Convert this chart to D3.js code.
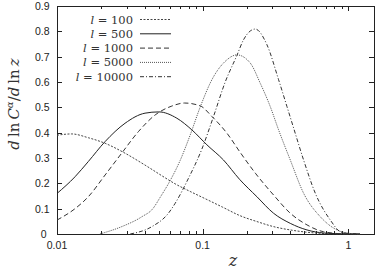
<!DOCTYPE html>
<html>
<head>
<meta charset="utf-8">
<script src="https://d3js.org/d3.v7.min.js"></script>
<style>
body { margin: 0; background: #fff; }
svg { display: block; }
</style>
</head>
<body>
<svg id="chart"></svg>
<script>
// legend names, one per curve
var seriesNames = ["100", "500", "1000", "5000", "10000"];

// curves: [z, d ln C / d ln z]
var l100 = [[0.0100, 0.390], [0.0126, 0.395], [0.0164, 0.380], [0.0214, 0.358], [0.0293, 0.319],
    [0.0402, 0.272], [0.0552, 0.222], [0.0647, 0.198], [0.0820, 0.168], [0.1070, 0.136],
    [0.1370, 0.106], [0.1810, 0.072], [0.2360, 0.049], [0.3070, 0.029], [0.4000, 0.016],
    [0.5200, 0.007], [0.6800, 0.002], [1.0000, 0.000], [1.2000, 0.000]];

var l500 = [[0.0100, 0.160], [0.0133, 0.226], [0.0164, 0.286], [0.0214, 0.365], [0.0293, 0.437],
    [0.0402, 0.477], [0.0500, 0.482], [0.0665, 0.457], [0.0843, 0.411], [0.1069, 0.352],
    [0.1390, 0.292], [0.1790, 0.216], [0.2358, 0.147], [0.3066, 0.082], [0.3994, 0.042],
    [0.5200, 0.016], [0.6760, 0.004], [1.0000, 0.000], [1.2000, 0.000]];

var l1000 = [[0.0100, 0.055], [0.0133, 0.100], [0.0164, 0.147], [0.0214, 0.233], [0.0278, 0.319],
    [0.0362, 0.404], [0.0472, 0.470], [0.0614, 0.505], [0.0750, 0.517], [0.0961, 0.506],
    [0.1157, 0.464], [0.1467, 0.398], [0.1810, 0.322], [0.2300, 0.240], [0.3066, 0.154],
    [0.3994, 0.082], [0.5200, 0.036], [0.6760, 0.009], [1.0000, 0.000], [1.2000, 0.000]];

var l5000 = [[0.0197, 0.000], [0.0278, 0.029], [0.0382, 0.068], [0.0455, 0.100], [0.0511, 0.145],
    [0.0597, 0.210], [0.0700, 0.290], [0.0820, 0.390], [0.0960, 0.500], [0.1157, 0.609],
    [0.1450, 0.685], [0.1718, 0.707], [0.2120, 0.675], [0.2485, 0.595], [0.2910, 0.503],
    [0.3320, 0.411], [0.3994, 0.292], [0.4930, 0.161], [0.6420, 0.068], [0.8360, 0.016],
    [1.0000, 0.003], [1.2000, 0.000]];

var l10000 = [[0.0318, 0.000], [0.0448, 0.029], [0.0582, 0.082], [0.0647, 0.121], [0.0799, 0.220],
    [0.0987, 0.335], [0.1187, 0.464], [0.1428, 0.600], [0.1718, 0.705], [0.1908, 0.767],
    [0.2295, 0.809], [0.2762, 0.747], [0.3320, 0.609], [0.3790, 0.503], [0.4150, 0.430],
    [0.4930, 0.292], [0.5930, 0.161], [0.7520, 0.055], [0.8810, 0.009], [1.0000, 0.002],
    [1.2000, 0.000]];

var allSeries = [l100, l500, l1000, l5000, l10000];

// x ticks (log axis) and y ticks
var xMajor = [0.01, 0.1, 1];
var xMajorLabels = ["0.01", "0.1", "1"];
var yTicks = [0, 0.1, 0.2, 0.3, 0.4, 0.5, 0.6, 0.7, 0.8, 0.9];

var styles = [
    { dash: "2,1.5", color: "#444" },
    { dash: null, color: "#222" },
    { dash: "5,3", color: "#333" },
    { dash: "1,1", color: "#555" },
    { dash: "4,2,1,2", color: "#333" }
];

var serif = "'DejaVu Serif', serif";
var sans = "'Liberation Sans', Arial, sans-serif";
var thin = "\u2009";

var screen = { width: 379, height: 273 };
var plot = { left: 57, right: 374, top: 6, bottom: 234 };

var svg = d3.select("#chart")
    .attr("width", screen.width)
    .attr("height", screen.height);

var xScale = d3.scaleLog()
    .domain([0.01, 1.5])
    .range([plot.left, plot.right]);

var yScale = d3.scaleLinear()
    .domain([0, 0.9])
    .range([plot.bottom, plot.top]);

// minor ticks for the log axis
var xMinor = [];
[0.01, 0.1, 1].forEach(function (d) {
    for (var k = 2; k <= 9; k++) {
        var v = d * k;
        if (v <= 1.5) xMinor.push(v);
    }
});

var axes = svg.append("g").attr("stroke", "#222").attr("stroke-width", 1).attr("shape-rendering", "crispEdges");

axes.append("rect")
    .attr("x", plot.left)
    .attr("y", plot.top)
    .attr("width", plot.right - plot.left)
    .attr("height", plot.bottom - plot.top)
    .attr("fill", "none");

// inward ticks, bottom and top
xMajor.forEach(function (d) {
    var x = Math.round(xScale(d)) + 0.5;
    axes.append("line").attr("x1", x).attr("x2", x).attr("y1", plot.bottom).attr("y2", plot.bottom - 5);
    axes.append("line").attr("x1", x).attr("x2", x).attr("y1", plot.top).attr("y2", plot.top + 5);
});
xMinor.forEach(function (d) {
    var x = Math.round(xScale(d)) + 0.5;
    axes.append("line").attr("x1", x).attr("x2", x).attr("y1", plot.bottom).attr("y2", plot.bottom - 3);
    axes.append("line").attr("x1", x).attr("x2", x).attr("y1", plot.top).attr("y2", plot.top + 3);
});
yTicks.forEach(function (d) {
    var y = Math.round(yScale(d)) + 0.5;
    axes.append("line").attr("x1", plot.left).attr("x2", plot.left + 5).attr("y1", y).attr("y2", y);
    axes.append("line").attr("x1", plot.right).attr("x2", plot.right - 5).attr("y1", y).attr("y2", y);
});

// tick labels
svg.append("g").selectAll("text")
    .data(xMajor)
    .enter()
    .append("text")
    .attr("font-family", sans)
    .attr("font-size", 10.5)
    .attr("fill", "#222")
    .attr("text-anchor", "middle")
    .attr("x", function (d) { return xScale(d); })
    .attr("y", 249)
    .text(function (d, i) { return xMajorLabels[i]; });

svg.append("g").selectAll("text")
    .data(yTicks)
    .enter()
    .append("text")
    .attr("font-family", sans)
    .attr("font-size", 10.5)
    .attr("fill", "#222")
    .attr("text-anchor", "end")
    .attr("x", function (d) { return d === 0 ? 46.5 : 49.5; })
    .attr("y", function (d) { return yScale(d) + 4; })
    .text(function (d) { return d === 0 ? "0" : d3.format(".1f")(d); });

// curves
var lineGenerator = d3.line()
    .x(function (p) { return xScale(p[0]); })
    .y(function (p) { return yScale(p[1]); })
    .curve(d3.curveMonotoneX);

var curves = svg.append("g").attr("fill", "none");
allSeries.forEach(function (s, i) {
    curves.append("path")
        .datum(s)
        .attr("d", lineGenerator)
        .attr("stroke", styles[i].color)
        .attr("stroke-width", 1)
        .attr("stroke-dasharray", styles[i].dash);
});

// legend
var legend = svg.append("g");
seriesNames.forEach(function (name, i) {
    var y = 19.5 + i * 14.3;
    var t = legend.append("text")
        .attr("font-family", serif)
        .attr("font-size", 11.5)
        .attr("fill", "#333")
        .attr("text-anchor", "end")
        .attr("x", 133)
        .attr("y", y + 4);
    t.append("tspan").attr("font-style", "italic").text("l");
    t.append("tspan").text(" = " + name);
    legend.append("line")
        .attr("x1", 140).attr("x2", 171)
        .attr("y1", y).attr("y2", y)
        .attr("stroke", styles[i].color)
        .attr("stroke-width", 1)
        .attr("stroke-dasharray", styles[i].dash);
});

// axis titles
svg.append("text")
    .attr("font-family", serif)
    .attr("font-size", 16)
    .attr("font-style", "italic")
    .attr("fill", "#333")
    .attr("text-anchor", "middle")
    .attr("x", 233)
    .attr("y", 266)
    .text("z");

var yl = svg.append("text")
    .attr("font-family", serif)
    .attr("font-size", 15)
    .attr("fill", "#333")
    .attr("text-anchor", "middle")
    .attr("transform", "translate(19,104) rotate(-90)");
yl.append("tspan").attr("font-style", "italic").text("d");
yl.append("tspan").text(thin + "ln" + thin);
yl.append("tspan").attr("font-style", "italic").text("C");
yl.append("tspan").attr("font-style", "italic").attr("font-size", 10).attr("dy", -6).text("α");
yl.append("tspan").attr("dy", 6).text("/");
yl.append("tspan").attr("font-style", "italic").text("d");
yl.append("tspan").text(thin + "ln" + thin);
yl.append("tspan").attr("font-style", "italic").text("z");
</script>
</body>
</html>
